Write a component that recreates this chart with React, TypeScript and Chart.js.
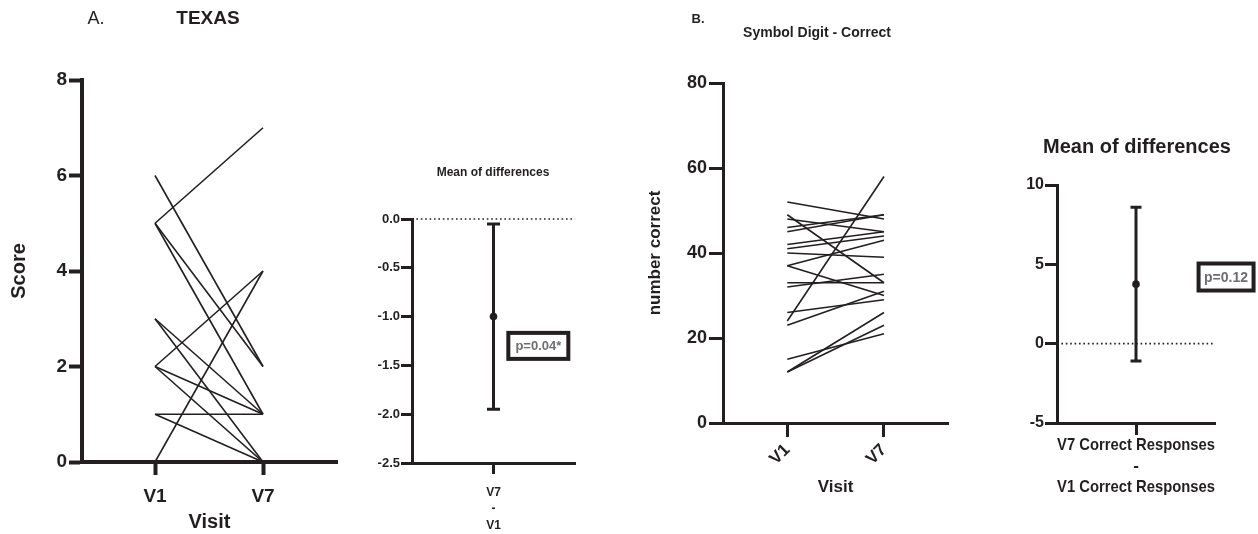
import React, { useEffect, useRef } from 'react';
import { Chart, registerables } from 'chart.js';

Chart.register(...registerables);

const FONT = "'Liberation Sans', Arial, Helvetica, sans-serif";
const INK = '#231f20';
const GREY = '#6d6e71';

// ---------- Panel A: TEXAS ----------
const visits = ['V1', 'V7'];
const texasV1 = [5, 6, 5, 5, 3, 3, 2, 2, 2, 1, 1, 0];
const texasV7 = [7, 2, 2, 1, 1, 0, 4, 1, 0, 1, 0, 4];
const texasYTicks = [0, 2, 4, 6, 8];

const texasDiffLabel = ['V7', '-', 'V1'];
const texasDiffMean = [-1.0];
const texasDiffCI = [-1.95, -0.05];
const texasDiffYTicks = [-2.5, -2.0, -1.5, -1.0, -0.5, 0.0];
const texasP = 'p=0.04*';

// ---------- Panel B: Symbol Digit ----------
const symbolV1 = [52, 49, 48, 46, 45, 42, 41, 40, 37, 37, 33, 32, 26, 24, 23, 15, 12, 12];
const symbolV7 = [48, 33, 45, 49, 49, 45, 44, 39, 43, 30, 33, 35, 29, 58, 31, 21, 26, 23];
const symbolYTicks = [0, 20, 40, 60, 80];

const symbolDiffLabel = ['V7 Correct Responses', '-', 'V1 Correct Responses'];
const symbolDiffMean = [3.75];
const symbolDiffCI = [-1.1, 8.6];
const symbolDiffYTicks = [-5, 0, 5, 10];
const symbolP = 'p=0.12';

type Txt = { text: string; x: number; y: number; font: string; color?: string; align?: CanvasTextAlign };
type Cfg = {
  texts?: Txt[];
  err?: { x: number; lo: number; hi: number; cap: number; width: number };
  pbox?: { x: number; y: number; w: number; h: number; text: string; font: string };
};

function annot(cfg: Cfg) {
  return {
    id: 'annot',
    afterDatasetsDraw(chart: any) {
      if (!cfg.err) return;
      const { ctx } = chart;
      const xs = chart.scales.x;
      const ys = chart.scales.y;
      const px = xs.getPixelForValue(cfg.err.x);
      const y1 = ys.getPixelForValue(cfg.err.lo);
      const y2 = ys.getPixelForValue(cfg.err.hi);
      const c = cfg.err.cap / 2;
      ctx.save();
      ctx.strokeStyle = INK;
      ctx.lineWidth = cfg.err.width;
      ctx.beginPath();
      ctx.moveTo(px, y1);
      ctx.lineTo(px, y2);
      ctx.moveTo(px - c, y1);
      ctx.lineTo(px + c, y1);
      ctx.moveTo(px - c, y2);
      ctx.lineTo(px + c, y2);
      ctx.stroke();
      ctx.restore();
    },
    afterDraw(chart: any) {
      const { ctx } = chart;
      ctx.save();
      (cfg.texts || []).forEach((t) => {
        ctx.font = t.font;
        ctx.fillStyle = t.color || INK;
        ctx.textAlign = t.align || 'center';
        ctx.textBaseline = 'middle';
        ctx.fillText(t.text, t.x, t.y);
      });
      if (cfg.pbox) {
        const b = cfg.pbox;
        const cx = chart.scales.x.getPixelForValue(b.x);
        const cy = chart.scales.y.getPixelForValue(b.y);
        ctx.fillStyle = '#ffffff';
        ctx.fillRect(cx - b.w / 2, cy - b.h / 2, b.w, b.h);
        ctx.strokeStyle = INK;
        ctx.lineWidth = 4;
        ctx.strokeRect(cx - b.w / 2 + 2, cy - b.h / 2 + 2, b.w - 4, b.h - 4);
        ctx.font = b.font;
        ctx.fillStyle = GREY;
        ctx.textAlign = 'center';
        ctx.textBaseline = 'middle';
        ctx.fillText(b.text, cx, cy + 1);
      }
      ctx.restore();
    },
  };
}

function axisStyle(borderW: number, tickLen: number, tickW: number) {
  return {
    grid: {
      display: true,
      drawOnChartArea: false,
      drawTicks: true,
      tickLength: tickLen,
      tickWidth: tickW,
      tickColor: INK,
      color: INK,
    },
    border: { display: true, width: borderW, color: INK },
  };
}

const f = (size: number, weight: any = 'bold', lineHeight = 1.2) => ({ family: FONT, size, weight, lineHeight });

function pairedConfig(
  v1: number[],
  v7: number[],
  yTicks: number[],
  o: {
    pad: any; yWidth: number; xHeight: number; xMin: number; xMax: number;
    tickFont: number; labelFont: number; yTitle: string; yTitlePad: number; xTitlePad: number;
    xTickFont: number; rot: number; xTickPad: number; yTickPad: number;
    border: number; tickLen: number; tickW: number; lineW: number; texts: Txt[];
  }
) {
  return {
    type: 'line',
    data: {
      datasets: v1.map((a, i) => ({
        data: [
          { x: 1, y: a },
          { x: 2, y: v7[i] },
        ],
        borderColor: INK,
        borderWidth: o.lineW,
        pointRadius: 0,
        fill: false,
        tension: 0,
      })),
    },
    options: {
      responsive: false,
      animation: false,
      events: [],
      layout: { padding: o.pad },
      plugins: { legend: { display: false }, tooltip: { enabled: false }, title: { display: false } },
      scales: {
        x: {
          type: 'linear',
          min: o.xMin,
          max: o.xMax,
          afterBuildTicks: (s: any) => {
            s.ticks = visits.map((_, i) => ({ value: i + 1 }));
          },
          afterFit: (s: any) => {
            s.height = o.xHeight;
          },
          ticks: {
            callback: (v: any) => visits[Math.round(v) - 1] ?? '',
            font: f(o.xTickFont),
            color: INK,
            padding: o.xTickPad,
            minRotation: o.rot,
            maxRotation: o.rot,
            autoSkip: false,
          },
          title: { display: true, text: 'Visit', font: f(o.labelFont), color: INK, padding: { top: 0, bottom: o.xTitlePad } },
          ...axisStyle(o.border, o.tickLen, o.tickW),
        },
        y: {
          min: yTicks[0],
          max: yTicks[yTicks.length - 1],
          afterBuildTicks: (s: any) => {
            s.ticks = yTicks.map((v) => ({ value: v }));
          },
          afterFit: (s: any) => {
            s.width = o.yWidth;
          },
          ticks: { font: f(o.tickFont), color: INK, padding: o.yTickPad },
          title: { display: true, text: o.yTitle, font: f(o.labelFont), color: INK, padding: { top: o.yTitlePad, bottom: 0 } },
          ...axisStyle(o.border, o.tickLen, o.tickW),
        },
      },
    },
    plugins: [annot({ texts: o.texts })],
  };
}

function diffConfig(
  mean: number[],
  ci: number[],
  yTicks: number[],
  xLabel: string[],
  p: string,
  o: {
    pad: any; yWidth: number; xHeight: number; tickFont: number; yTickPad: number;
    labelFont: number; labelLH: number; xTitlePad: number; border: number; tickLen: number; tickW: number;
    cap: number; errW: number; radius: number; pbox: any; texts: Txt[]; fmt: (v: number) => string;
  }
) {
  return {
    type: 'line',
    data: {
      datasets: [
        {
          data: [{ x: 1, y: mean[0] }],
          showLine: false,
          pointRadius: o.radius,
          pointBackgroundColor: INK,
          pointBorderColor: INK,
          pointBorderWidth: 0,
        },
        {
          data: [
            { x: 0, y: 0 },
            { x: 2, y: 0 },
          ],
          borderColor: INK,
          borderWidth: 1.6,
          borderDash: [1.6, 2.8],
          pointRadius: 0,
          clip: false,
        },
      ],
    },
    options: {
      responsive: false,
      animation: false,
      events: [],
      layout: { padding: o.pad },
      plugins: { legend: { display: false }, tooltip: { enabled: false }, title: { display: false } },
      scales: {
        x: {
          type: 'linear',
          min: 0,
          max: 2,
          afterBuildTicks: (s: any) => {
            s.ticks = [{ value: 1 }];
          },
          afterFit: (s: any) => {
            s.height = o.xHeight;
          },
          ticks: { callback: () => '', font: f(o.labelFont) },
          title: {
            display: true,
            text: xLabel,
            font: f(o.labelFont, 'bold', o.labelLH),
            color: INK,
            padding: { top: 0, bottom: o.xTitlePad },
          },
          ...axisStyle(o.border, o.tickLen, o.tickW),
        },
        y: {
          min: yTicks[0],
          max: yTicks[yTicks.length - 1],
          afterBuildTicks: (s: any) => {
            s.ticks = yTicks.map((v) => ({ value: v }));
          },
          afterFit: (s: any) => {
            s.width = o.yWidth;
          },
          ticks: { font: f(o.tickFont), color: INK, padding: o.yTickPad, callback: (v: any) => o.fmt(Number(v)) },
          ...axisStyle(o.border, o.tickLen, o.tickW),
        },
      },
    },
    plugins: [
      annot({
        texts: o.texts,
        err: { x: 1, lo: ci[0], hi: ci[1], cap: o.cap, width: o.errW },
        pbox: { ...o.pbox, text: p },
      }),
    ],
  };
}

export default function App() {
  const refA = useRef<HTMLCanvasElement>(null);
  const refC = useRef<HTMLCanvasElement>(null);
  const refB = useRef<HTMLCanvasElement>(null);
  const refD = useRef<HTMLCanvasElement>(null);

  useEffect(() => {
    const charts: Chart[] = [];

    charts.push(
      new Chart(
        refA.current as HTMLCanvasElement,
        pairedConfig(texasV1, texasV7, texasYTicks, {
          pad: { left: 0, right: 8, top: 80, bottom: 0 },
          yWidth: 82,
          xHeight: 72,
          xMin: 0.324,
          xMax: 2.685,
          tickFont: 19,
          labelFont: 20,
          xTickFont: 19,
          yTitle: 'Score',
          yTitlePad: 7,
          xTitlePad: 0,
          rot: 0,
          xTickPad: 10,
          yTickPad: 2,
          border: 4,
          tickLen: 13,
          tickW: 4,
          lineW: 1.6,
          texts: [
            { text: 'A.', x: 96, y: 19, font: `normal 18px ${FONT}` },
            { text: 'TEXAS', x: 208, y: 19, font: `bold 19px ${FONT}` },
          ],
        }) as any
      )
    );

    charts.push(
      new Chart(
        refC.current as HTMLCanvasElement,
        diffConfig(texasDiffMean, texasDiffCI, texasDiffYTicks, texasDiffLabel, texasP, {
          pad: { left: 0, right: 20, top: 219, bottom: 0 },
          yWidth: 67,
          xHeight: 71,
          tickFont: 13,
          yTickPad: 1,
          labelFont: 12,
          labelLH: 1.39,
          xTitlePad: 0,
          border: 3,
          tickLen: 11,
          tickW: 3,
          cap: 13,
          errW: 3,
          radius: 3.8,
          pbox: { x: 1.55, y: -1.3, w: 64, h: 30, font: `bold 13px ${FONT}` },
          fmt: (v) => (Math.abs(v) < 1e-9 ? '0.0' : v.toFixed(1)),
          texts: [{ text: 'Mean of differences', x: 148, y: 173, font: `bold 12px ${FONT}` }],
        }) as any
      )
    );

    charts.push(
      new Chart(
        refB.current as HTMLCanvasElement,
        pairedConfig(symbolV1, symbolV7, symbolYTicks, {
          pad: { left: 0, right: 2, top: 83, bottom: 0 },
          yWidth: 123,
          xHeight: 111,
          xMin: 0.335,
          xMax: 2.662,
          tickFont: 18,
          labelFont: 17,
          xTickFont: 17,
          yTitle: 'number correct',
          yTitlePad: 45,
          xTitlePad: 36,
          rot: 45,
          xTickPad: 3,
          yTickPad: 2,
          border: 3,
          tickLen: 14,
          tickW: 3,
          lineW: 1.6,
          texts: [
            { text: 'B.', x: 98, y: 19, font: `bold 13px ${FONT}` },
            { text: 'Symbol Digit - Correct', x: 217, y: 33, font: `bold 14px ${FONT}` },
          ],
        }) as any
      )
    );

    charts.push(
      new Chart(
        refD.current as HTMLCanvasElement,
        diffConfig(symbolDiffMean, symbolDiffCI, symbolDiffYTicks, symbolDiffLabel, symbolP, {
          pad: { left: 0, right: 43, top: 185, bottom: 0 },
          yWidth: 107,
          xHeight: 111,
          tickFont: 16,
          yTickPad: 1,
          labelFont: 17,
          labelLH: 1.235,
          xTitlePad: 36,
          border: 3,
          tickLen: 12,
          tickW: 3,
          cap: 11,
          errW: 3,
          radius: 3.8,
          pbox: { x: 2.14, y: 4.2, w: 59, h: 31, font: `bold 14px ${FONT}` },
          fmt: (v) => String(v),
          texts: [{ text: 'Mean of differences', x: 187, y: 147, font: `bold 20px ${FONT}` }],
        }) as any
      )
    );

    return () => charts.forEach((c) => c.destroy());
  }, []);

  const base: React.CSSProperties = { position: 'absolute', top: 0 };
  return (
    <div style={{ position: 'absolute', left: 0, top: 0, width: 1258, height: 534, background: '#fff', overflow: 'hidden' }}>
      <canvas ref={refA} width={345} height={534} style={{ ...base, left: 0 }} />
      <canvas ref={refC} width={250} height={534} style={{ ...base, left: 345 }} />
      <canvas ref={refB} width={350} height={534} style={{ ...base, left: 600 }} />
      <canvas ref={refD} width={308} height={534} style={{ ...base, left: 950 }} />
    </div>
  );
}
